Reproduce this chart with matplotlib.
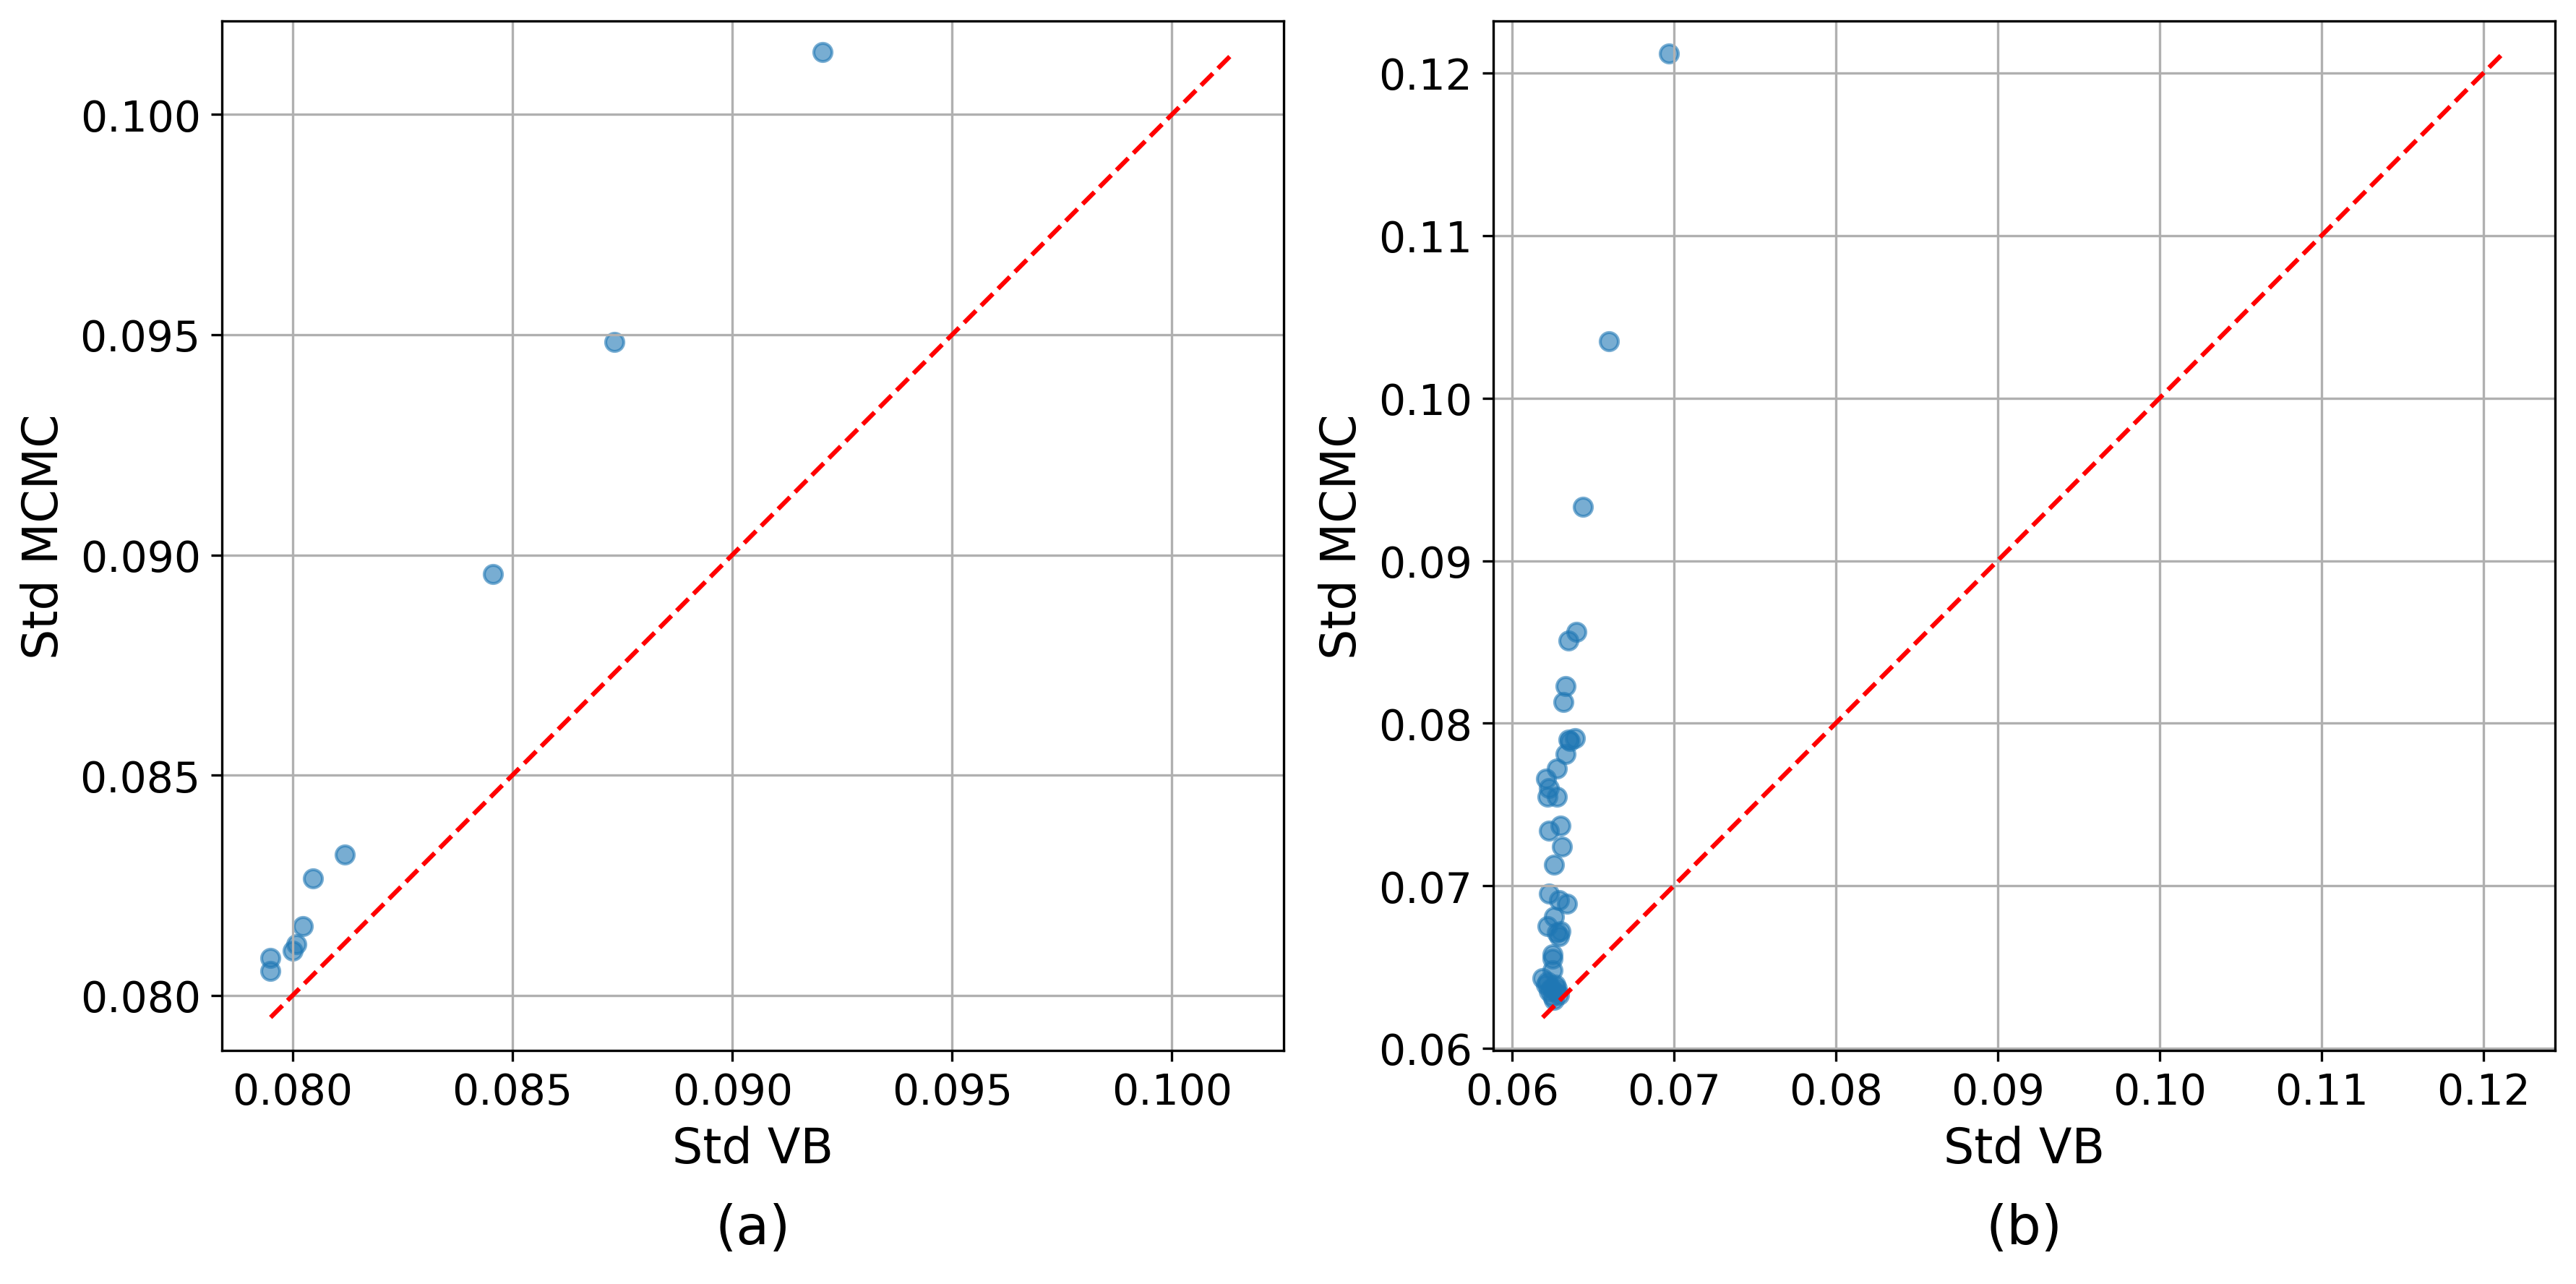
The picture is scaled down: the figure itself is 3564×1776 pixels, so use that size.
import matplotlib
matplotlib.use("Agg")
import matplotlib.pyplot as plt
import numpy as np

# Panel (a): std of VB vs MCMC
std_vb_a = [0.0795, 0.0795, 0.0800, 0.08008, 0.08024, 0.08047, 0.08118,
            0.08456, 0.08732, 0.09205]
std_mcmc_a = [0.08056, 0.08085, 0.08101, 0.08117, 0.08157, 0.08266, 0.08319,
              0.08956, 0.09483, 0.10141]

# Panel (b)
std_vb_b = [0.0697, 0.0660, 0.0644, 0.0640, 0.0635, 0.0633, 0.0632, 0.0635,
            0.0639, 0.0636, 0.0633, 0.0628, 0.0621, 0.0623, 0.0622, 0.0628,
            0.0623, 0.0630, 0.0631, 0.0626, 0.0623, 0.0629, 0.0634, 0.0626,
            0.0622, 0.0628, 0.0630, 0.0629, 0.0625, 0.0625, 0.0625, 0.0619,
            0.0621, 0.0624, 0.0627, 0.0625, 0.0628, 0.0623, 0.0629, 0.0626,
            0.0622, 0.0627]
std_mcmc_b = [0.1212, 0.1035, 0.0933, 0.0856, 0.0851, 0.0823, 0.0813, 0.0790,
              0.0791, 0.0789, 0.0781, 0.0772, 0.0766, 0.0760, 0.0755, 0.0755,
              0.0734, 0.0737, 0.0724, 0.0713, 0.0695, 0.0691, 0.0689, 0.0681,
              0.0675, 0.0671, 0.0672, 0.0669, 0.0658, 0.0655, 0.0648, 0.0643,
              0.0639, 0.0637, 0.0635, 0.0632, 0.0637, 0.0635, 0.0633, 0.0630,
              0.0641, 0.0639]

# axis ranges (equal scale in both directions)
xlims = [(0.07839, 0.10254), (0.05885, 0.12443)]
ylims = [(0.07875, 0.10212), (0.05987, 0.1232)]

panels = [(std_vb_a, std_mcmc_a, '(a)'), (std_vb_b, std_mcmc_b, '(b)')]

fig, axes = plt.subplots(1, 2, figsize=(11.88, 5.923))
plt.subplots_adjust(left=0.0861, right=0.9919, bottom=0.1818, top=0.9831, wspace=0.1974)

for i, (ax, (x, y, tag)) in enumerate(zip(axes, panels)):
    x = np.array(x)
    y = np.array(y)
    ax.scatter(x, y, alpha=0.6)
    # identity line from smallest to largest value
    lo = min(x.min(), y.min())
    hi = max(x.max(), y.max())
    ax.plot([lo, hi], [lo, hi], 'r--')
    ax.set_xlabel('Std VB', fontsize=16)
    ax.set_ylabel('Std MCMC', fontsize=16)
    ax.tick_params(labelsize=14)
    ax.grid(True)
    ax.set_xlim(*xlims[i])
    ax.set_ylim(*ylims[i])
    ax.text(0.5, -0.173, tag, transform=ax.transAxes, ha='center', va='center', fontsize=18)

plt.savefig('out.png', dpi=300)
